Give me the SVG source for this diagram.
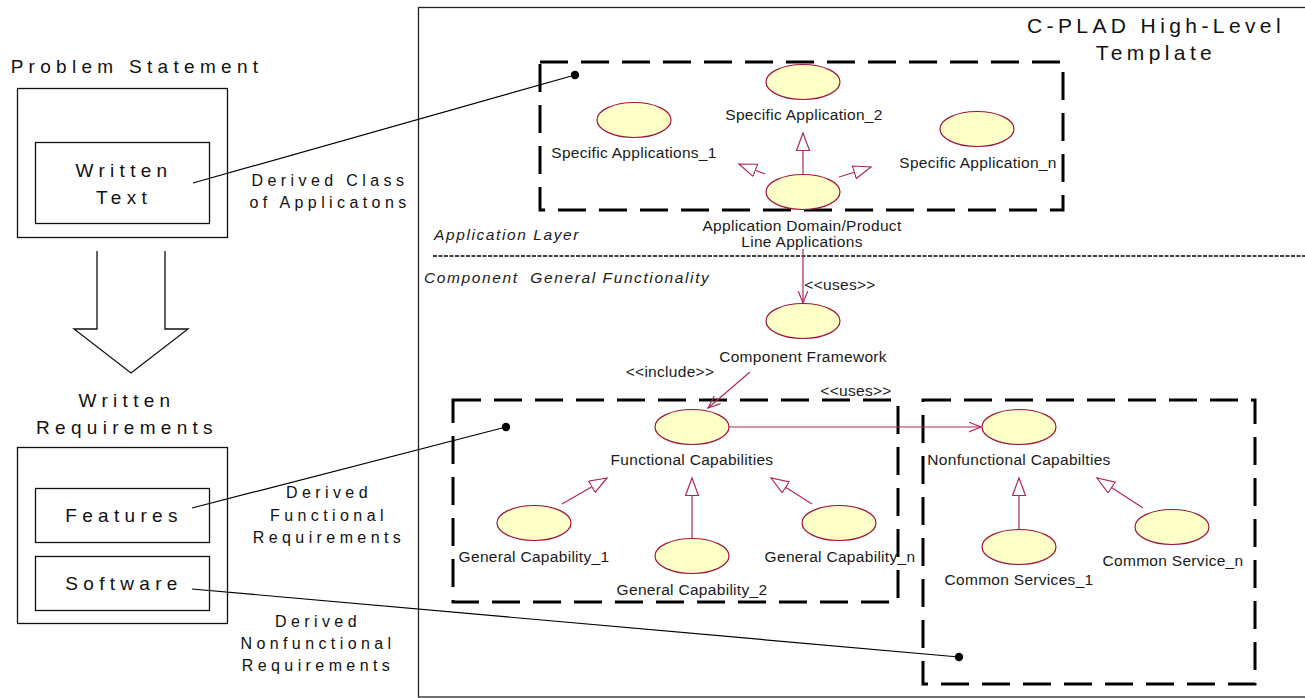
<svg xmlns="http://www.w3.org/2000/svg" width="1305" height="698" viewBox="0 0 1305 698">
<defs>
<style>
.big{font-family:"Liberation Sans",Arial,sans-serif;font-size:19px;letter-spacing:5.3px;fill:#111;text-anchor:middle}
.title{font-family:"Liberation Sans",Arial,sans-serif;font-size:21px;letter-spacing:4.4px;fill:#111;text-anchor:middle}
.der{font-family:"Liberation Sans",Arial,sans-serif;font-size:16px;letter-spacing:4.4px;fill:#111;text-anchor:middle}
.lbl{font-family:"Liberation Sans",Arial,sans-serif;font-size:15.5px;letter-spacing:0.3px;fill:#1a1a1a;text-anchor:middle}
.ital{font-family:"Liberation Sans",Arial,sans-serif;font-size:15.5px;font-style:italic;letter-spacing:1.6px;fill:#1a1a1a;white-space:pre}
.box{fill:#fff;stroke:#111;stroke-width:1.3}
.uc{fill:#ffffc8;stroke:#a0143c;stroke-width:1.2}
.dash{fill:none;stroke:#000;stroke-width:3;stroke-dasharray:28 13}
.rel{fill:none;stroke:#b02858;stroke-width:1.2}
.gen{marker-end:url(#tri)}
.dep{marker-end:url(#open)}
.trace{fill:none;stroke:#000;stroke-width:1.2}
</style>
<marker id="tri" markerUnits="userSpaceOnUse" markerWidth="20" markerHeight="16" refX="18" refY="7" orient="auto">
<path d="M0.5,0.5 L18,7 L0.5,13.5 z" fill="#fff" stroke="#b02858" stroke-width="1.2"/>
</marker>
<marker id="open" markerUnits="userSpaceOnUse" markerWidth="14" markerHeight="12" refX="12.5" refY="5" orient="auto">
<path d="M0,0 L12.5,5 L0,10" fill="none" stroke="#b02858" stroke-width="1.2"/>
</marker>
</defs>
<rect width="1305" height="698" fill="#fff"/>

<!-- main template frame -->
<g id="template-frame">
<rect x="418.5" y="7.5" width="900" height="689.5" fill="none" stroke="#222" stroke-width="1.3"/>
<text class="title" x="1156" y="33">C-PLAD High-Level</text>
<text class="title" x="1156" y="60">Template</text>
<line x1="433" y1="256" x2="1305" y2="256" stroke="#000" stroke-width="1.5" stroke-dasharray="4 1.5"/>
<text class="ital" x="434" y="240">Application Layer</text>
<text class="ital" x="424" y="283">Component  General Functionality</text>
</g>

<!-- left side -->
<g id="problem-statement">
<text class="big" x="137" y="73">Problem Statement</text>
<rect class="box" x="17.5" y="88.5" width="210" height="149"/>
</g>
<g id="written-text">
<rect class="box" x="35.5" y="142.5" width="174" height="81"/>
<text class="big" x="124" y="177">Written</text>
<text class="big" x="124" y="204">Text</text>
</g>
<g id="big-arrow">
<path d="M97,251 L97,329 L74,329 L131,373 L188,329 L165,329 L165,251" fill="#fff" stroke="#111" stroke-width="1.3"/>
</g>
<g id="written-requirements">
<text class="big" x="127" y="407">Written</text>
<text class="big" x="127" y="434">Requirements</text>
<rect class="box" x="17.5" y="447.5" width="210" height="176"/>
</g>
<g id="features">
<rect class="box" x="35.5" y="488.5" width="174" height="54"/>
<text class="big" x="124" y="522">Features</text>
</g>
<g id="software">
<rect class="box" x="35.5" y="556.5" width="174" height="54"/>
<text class="big" x="124" y="590">Software</text>
</g>

<!-- dashed packages -->
<g id="application-package"><rect class="dash" x="540" y="62" width="523" height="148"/></g>
<g id="functional-package"><rect class="dash" x="453" y="400" width="445" height="202"/></g>
<g id="nonfunctional-package"><rect class="dash" x="923" y="400" width="332" height="284"/></g>

<!-- use cases -->
<g id="uc-specific-1"><ellipse class="uc" cx="634" cy="120" rx="37" ry="17.5"/><text class="lbl" x="634" y="158">Specific Applications_1</text></g>
<g id="uc-specific-2"><ellipse class="uc" cx="803" cy="82" rx="37" ry="17.5"/><text class="lbl" x="804" y="120">Specific Application_2</text></g>
<g id="uc-specific-n"><ellipse class="uc" cx="977" cy="129" rx="37" ry="17.5"/><text class="lbl" x="978" y="168">Specific Application_n</text></g>
<g id="uc-app-domain"><ellipse class="uc" cx="803" cy="192" rx="37" ry="17.5"/><text class="lbl" x="802" y="231">Application Domain/Product</text><text class="lbl" x="802" y="247">Line Applications</text></g>
<g id="uc-component-framework"><ellipse class="uc" cx="803" cy="321" rx="37" ry="17.5"/><text class="lbl" x="803" y="362">Component Framework</text></g>
<g id="uc-functional"><ellipse class="uc" cx="692" cy="427" rx="37" ry="17.5"/><text class="lbl" x="692" y="465">Functional Capabilities</text></g>
<g id="uc-nonfunctional"><ellipse class="uc" cx="1019" cy="427" rx="37" ry="17.5"/><text class="lbl" x="1019" y="465">Nonfunctional Capabilties</text></g>
<g id="uc-general-1"><ellipse class="uc" cx="534" cy="523" rx="37" ry="17.5"/><text class="lbl" x="534" y="562">General Capability_1</text></g>
<g id="uc-general-2"><ellipse class="uc" cx="692" cy="556" rx="37" ry="17.5"/><text class="lbl" x="692" y="595">General Capability_2</text></g>
<g id="uc-general-n"><ellipse class="uc" cx="839" cy="523" rx="37" ry="17.5"/><text class="lbl" x="840" y="562">General Capability_n</text></g>
<g id="uc-common-1"><ellipse class="uc" cx="1019" cy="547" rx="37" ry="17.5"/><text class="lbl" x="1019" y="585">Common Services_1</text></g>
<g id="uc-common-n"><ellipse class="uc" cx="1172" cy="527" rx="37" ry="17.5"/><text class="lbl" x="1173" y="566">Common Service_n</text></g>

<!-- connectors -->
<g id="connectors">
<line class="rel gen" x1="803" y1="174.5" x2="803" y2="133"/>
<line class="rel gen" x1="765" y1="174" x2="739" y2="164"/>
<line class="rel gen" x1="839" y1="177" x2="871" y2="167"/>
<line class="rel dep" x1="803" y1="249" x2="803" y2="303"/>
<text class="lbl" x="840" y="290">&lt;&lt;uses&gt;&gt;</text>
<line class="rel dep" x1="750" y1="372" x2="708" y2="408"/>
<text class="lbl" x="670" y="377">&lt;&lt;include&gt;&gt;</text>
<line class="rel dep" x1="729" y1="427" x2="981" y2="427"/>
<text class="lbl" x="856" y="396">&lt;&lt;uses&gt;&gt;</text>
<line class="rel gen" x1="562" y1="504" x2="607" y2="478"/>
<line class="rel gen" x1="692" y1="538.5" x2="692" y2="478"/>
<line class="rel gen" x1="812" y1="504" x2="771" y2="478"/>
<line class="rel gen" x1="1019" y1="529.5" x2="1019" y2="478"/>
<line class="rel gen" x1="1143" y1="508" x2="1097" y2="478"/>

<line class="trace" x1="193" y1="183" x2="575" y2="75"/>
<circle cx="575" cy="75" r="4.2" fill="#000"/>
<line class="trace" x1="192" y1="508" x2="506" y2="427"/>
<circle cx="506" cy="427" r="4.2" fill="#000"/>
<line class="trace" x1="192" y1="589" x2="959" y2="657"/>
<circle cx="959" cy="657" r="4.2" fill="#000"/>
<text class="der" x="330" y="186">Derived Class</text>
<text class="der" x="330" y="208">of Applicatons</text>
<text class="der" x="329" y="498">Derived</text>
<text class="der" x="329" y="521">Functional</text>
<text class="der" x="329" y="543">Requirements</text>
<text class="der" x="318" y="627">Derived</text>
<text class="der" x="318" y="649">Nonfunctional</text>
<text class="der" x="318" y="671">Requirements</text>
</g>
</svg>
